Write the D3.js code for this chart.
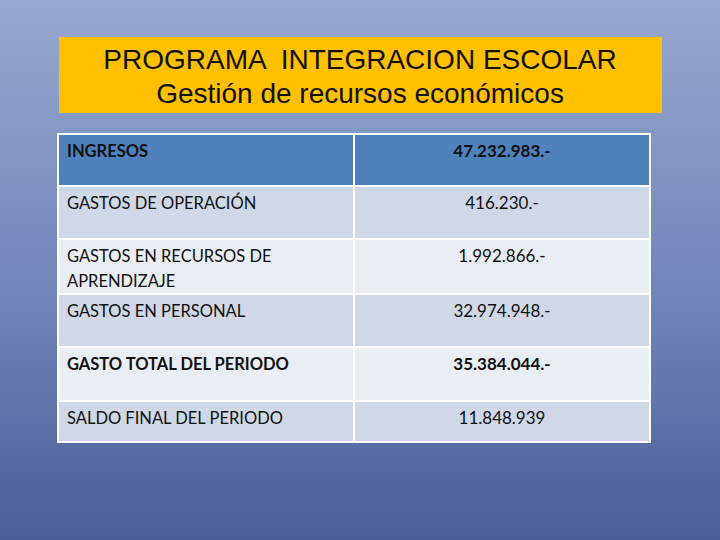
<!DOCTYPE html>
<html>
<head>
<meta charset="utf-8">
<script src="https://cdn.jsdelivr.net/npm/d3@7"></script>
<style>
  body { margin: 0; }
  svg { display: block; }
  text { white-space: pre; }
</style>
</head>
<body>
<script>
// table content
var titleLines = ["PROGRAMA  INTEGRACION ESCOLAR", "Gestión de recursos económicos"];
var labels = [
    ["INGRESOS"],
    ["GASTOS DE OPERACIÓN"],
    ["GASTOS EN RECURSOS DE", "APRENDIZAJE"],
    ["GASTOS EN PERSONAL"],
    ["GASTO TOTAL DEL PERIODO"],
    ["SALDO FINAL DEL PERIODO"]
];
var amounts = ["47.232.983.-", "416.230.-", "1.992.866.-", "32.974.948.-", "35.384.044.-", "11.848.939"];
var boldRows = [true, false, false, false, true, false];

var W = 720, H = 540;
var svg = d3.select("body").append("svg")
    .attr("width", W)
    .attr("height", H);

// background gradient
var defs = svg.append("defs");
var grad = defs.append("linearGradient")
    .attr("id", "bg")
    .attr("x1", 0).attr("y1", 0)
    .attr("x2", 0).attr("y2", 1);
grad.append("stop").attr("offset", "0%").attr("stop-color", "#97a8cf");
grad.append("stop").attr("offset", "55%").attr("stop-color", "#7085b8");
grad.append("stop").attr("offset", "100%").attr("stop-color", "#4a5f98");
svg.append("rect")
    .attr("width", W)
    .attr("height", H)
    .attr("fill", "url(#bg)");

// title box
svg.append("rect")
    .attr("x", 59).attr("y", 37)
    .attr("width", 603).attr("height", 76)
    .attr("fill", "#ffc000");
svg.selectAll("text.title")
    .data(titleLines)
    .enter()
    .append("text")
    .attr("class", "title")
    .attr("xml:space", "preserve")
    .attr("x", 360)
    .attr("y", function (d, i) { return 69 + i * 34; })
    .attr("text-anchor", "middle")
    .attr("font-family", "Liberation Sans, Arial, sans-serif")
    .attr("font-size", 28)
    .attr("fill", "#111")
    .text(function (d) { return d; });

// table geometry
var rowEdges = [134, 186, 239, 294, 347, 401, 442];
var x = d3.scaleOrdinal().domain(["label", "amount"]).range([58, 354]);
var colW = { label: 296, amount: 296 };
var fills = ["#4f81bd", "#d0d8e8", "#e9edf4", "#d0d8e8", "#e9edf4", "#d0d8e8"];

var table = svg.append("g");
table.append("rect")
    .attr("x", 57).attr("y", rowEdges[0] - 1)
    .attr("width", 594).attr("height", rowEdges[6] - rowEdges[0] + 2)
    .attr("fill", "#fff");

var rows = table.selectAll("g.row")
    .data(amounts)
    .enter()
    .append("g")
    .attr("class", "row");

["label", "amount"].forEach(function (col) {
    rows.append("rect")
        .attr("x", x(col) + 1)
        .attr("y", function (d, i) { return rowEdges[i] + 1; })
        .attr("width", colW[col] - 2)
        .attr("height", function (d, i) { return rowEdges[i + 1] - rowEdges[i] - 2; })
        .attr("fill", function (d, i) { return fills[i]; });
});

var font = "Lato, 'Open Sans', sans-serif";

rows.each(function (d, i) {
    var g = d3.select(this);
    labels[i].forEach(function (line, k) {
        g.append("text")
            .attr("x", 67)
            .attr("y", rowEdges[i] + 23 + k * 25)
            .attr("font-family", font)
            .attr("font-size", 16.5)
            .attr("font-weight", boldRows[i] ? "bold" : "normal")
            .attr("fill", "#111")
            .text(line);
    });
    g.append("text")
        .attr("x", 502)
        .attr("y", rowEdges[i] + 23)
        .attr("text-anchor", "middle")
        .attr("font-family", font)
        .attr("font-size", 17)
        .attr("font-weight", boldRows[i] ? "bold" : "normal")
        .attr("fill", "#111")
        .text(d);
});
</script>
</body>
</html>
